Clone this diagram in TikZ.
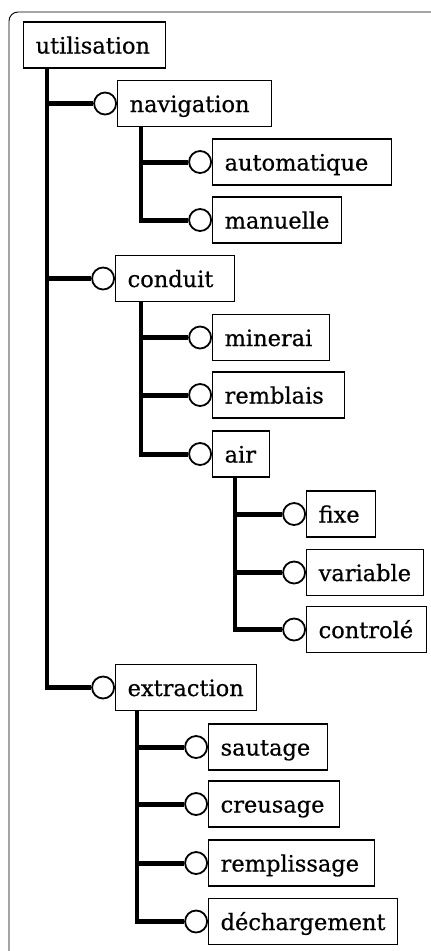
\documentclass[tikz,border=0pt]{standalone}
\usepackage{fontspec}
\setmainfont{DejaVu Serif}
\newfontfamily\boxfont{DejaVu Serif}[FakeBold=0.6]
\begin{document}
\begin{tikzpicture}[x=1pt,y=-1pt,
  box/.style={draw, line width=1.3pt, minimum height=46pt, inner xsep=12pt, inner ysep=0pt,
    text height=19pt, text depth=2pt,
    anchor=west, align=left, font=\boxfont\fontsize{22.5}{25}\selectfont},
  knob/.style={circle, draw, fill=white, line width=1.8pt, minimum size=22pt, inner sep=0pt, anchor=east},
  trunk/.style={line width=3.6pt, shorten >=-2.5pt},
  branch/.style={line width=5pt},
  frame/.style={line width=0.9pt, rounded corners=9pt}]
\useasboundingbox (0,0) rectangle (431,951);
\draw[frame] (9,951) -- (9,12) -- (431,12);

% boxes
\node[box, text width=117.7pt] (util) at (23,45) {utilisation};
\node[box, text width=129.7pt] (nav)  at (117,103.5) {navigation};
\node[box, text width=154.7pt] (auto) at (212,162) {automatique};
\node[box, text width=104.7pt] (manu) at (212,220) {manuelle};
\node[box, text width=94.7pt]  (cond) at (115,278.5) {conduit};
\node[box, text width=92.7pt]  (mine) at (212,337.5) {minerai};
\node[box, text width=107.7pt] (remb) at (212,395) {remblais};
\node[box, text width=32.7pt]  (air)  at (212,454) {air};
\node[box, text width=44.7pt]  (fixe) at (306,514) {fixe};
\node[box, text width=92.7pt]  (vari) at (306,572.5) {variable};
\node[box, text width=95.7pt]  (cont) at (306,629.5) {controlé};
\node[box, text width=116.7pt] (extr) at (115,687.5) {extraction};
\node[box, text width=94.7pt]  (saut) at (208,747) {sautage};
\node[box, text width=106.7pt] (creu) at (208,804) {creusage};
\node[box, text width=141.7pt] (remp) at (208,863) {remplissage};
\node[box, text width=164.7pt] (dech) at (208,921.5) {déchargement};

% trunk points
\coordinate (tu) at ([xshift=24pt]util.south west);
\coordinate (tn) at ([xshift=24pt]nav.south west);
\coordinate (tc) at ([xshift=26pt]cond.south west);
\coordinate (ta) at ([xshift=23pt]air.south west);
\coordinate (te) at ([xshift=22pt]extr.south west);

% trunks
\draw[trunk] (tu) -- (tu |- extr.west);
\draw[trunk] (tn) -- (tn |- manu.west);
\draw[trunk] (tc) -- (tc |- air.west);
\draw[trunk] (ta) -- (ta |- cont.west);
\draw[trunk] (te) -- (te |- dech.west);

% knobs
\foreach \n in {nav,auto,manu,cond,mine,remb,air,fixe,vari,cont,extr,saut,creu,remp,dech}
  \node[knob] (k\n) at (\n.west) {};

% branches
\foreach \n in {nav,cond,extr} \draw[branch] (tu |- k\n.west) -- (k\n.west);
\foreach \n in {auto,manu} \draw[branch] (tn |- k\n.west) -- (k\n.west);
\foreach \n in {mine,remb,air} \draw[branch] (tc |- k\n.west) -- (k\n.west);
\foreach \n in {fixe,vari,cont} \draw[branch] (ta |- k\n.west) -- (k\n.west);
\foreach \n in {saut,creu,remp,dech} \draw[branch] (te |- k\n.west) -- (k\n.west);
\end{tikzpicture}
\end{document}
